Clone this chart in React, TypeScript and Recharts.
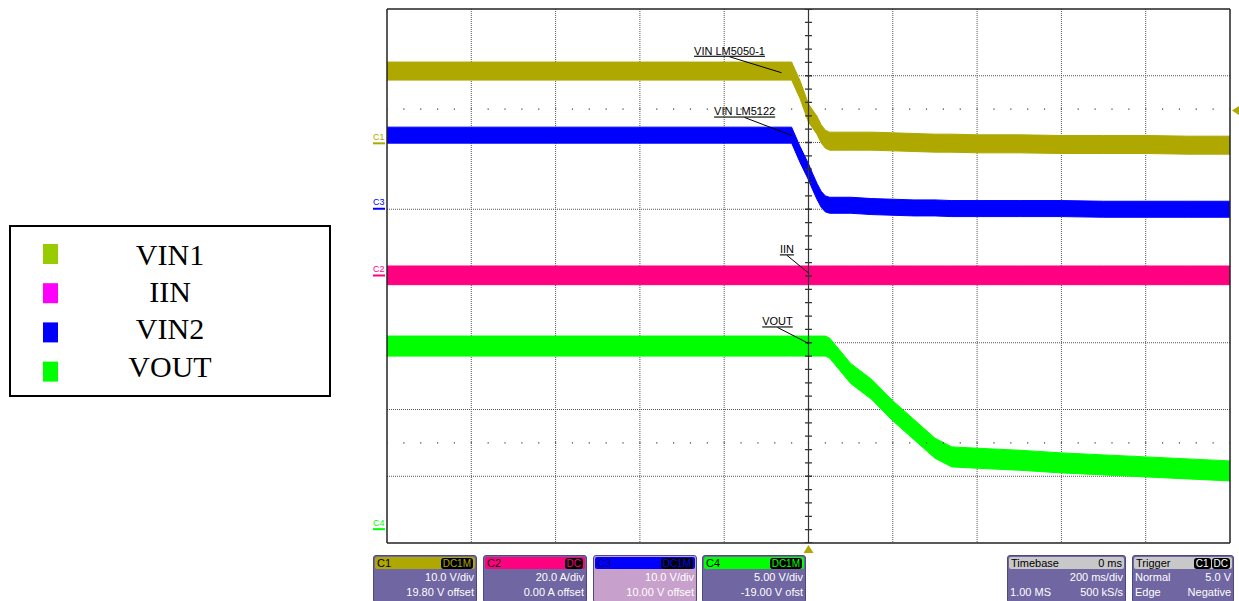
import React from "react";
import {
  ComposedChart,
  Area,
  XAxis,
  YAxis,
  CartesianGrid,
  ReferenceLine,
  ReferenceDot,
  Legend,
} from "recharts";

// time in ms (200 ms/div, trigger at 0)
const time = [-1000, -40, -20, 0, 10, 20, 30, 40, 50, 100, 150, 200, 250, 300, 340, 400, 500, 600, 700, 800, 900, 1000];
// C1, volts
const vin1 = [10.9, 10.9, 8.1, 4.6, 3.7, 2.8, 1.5, 0.7, 0.4, 0.4, 0.4, 0.3, 0.2, 0.1, 0.1, 0.0, 0.0, -0.1, -0.1, -0.1, -0.2, -0.2];
// C2, amps
const iin = [0.2, 0.2, 0.2, 0.2, 0.2, 0.2, 0.2, 0.2, 0.2, 0.2, 0.2, 0.2, 0.2, 0.2, 0.2, 0.2, 0.2, 0.2, 0.2, 0.2, 0.2, 0.2];
// C3, volts
const vin2 = [11.1, 11.1, 8.2, 5.6, 4.1, 2.7, 1.5, 0.8, 0.6, 0.6, 0.4, 0.3, 0.2, 0.2, 0.1, 0.1, 0.1, 0.1, 0.0, 0.0, 0.0, 0.0];
// C4, volts
const vout = [13.75, 13.75, 13.75, 13.75, 13.75, 13.75, 13.75, 13.75, 13.6, 11.7, 10.5, 8.9, 7.5, 6.1, 5.45, 5.35, 5.2, 5.0, 4.85, 4.7, 4.55, 4.4];

// scope channel settings
const channels = ["C1", "C2", "C3", "C4"];
const perDiv = [10, 20, 10, 5];
const offsets = [19.8, 0, 10, -19];
const noisePP = [2.7, 5.6, 2.4, 1.5]; // peak-to-peak trace noise, channel units
const traceColors = ["#aea800", "#ff0080", "#0000ff", "#00ff00"];

const seriesKeys = ["vin1", "iin", "vin2", "vout"];
const seriesValues = [vin1, iin, vin2, vout];

const legendNames = ["VIN1", "IIN", "VIN2", "VOUT"];
const legendColors = ["#99cc00", "#ff00ff", "#0000ff", "#00ff00"];

const gridTimes = [-800, -600, -400, -200, 200, 400, 600, 800];
const gridDivs = [-3, -2, -1, 1, 2, 3];

const notes = [
  { text: "VIN LM5050-1", t: -64, v: 10.65, ch: 0, dx: -52, dy: -16 },
  { text: "VIN LM5122", t: -40, v: 11.05, ch: 2, dx: -47, dy: -18 },
  { text: "IIN", t: 1, v: 0.8, ch: 1, dx: -22, dy: -18 },
  { text: "VOUT", t: 0, v: 13.95, ch: 3, dx: -31, dy: -16 },
];

const band = (v: number, ch: number) => [v - noisePP[ch] / 2, v + noisePP[ch] / 2];

const data = time.map((t, i) => {
  const row: any = { t };
  seriesKeys.forEach((k, s) => {
    row[k] = band(seriesValues[s][i], s);
  });
  return row;
});

const domainOf = (ch: number) => [-offsets[ch] - 4 * perDiv[ch], -offsets[ch] + 4 * perDiv[ch]];

const SANS = "'Liberation Sans', Arial, sans-serif";

function LegendBox() {
  return (
    <svg width={322} height={172}>
      <rect x={1} y={1} width={320} height={170} fill="#fff" stroke="#000" strokeWidth={2} />
      {legendNames.map((n, i) => (
        <g key={n}>
          <rect x={34} y={19 + i * 39.2} width={15} height={20} fill={legendColors[i]} />
          <text
            x={161}
            y={40 + i * 37.2}
            textAnchor="middle"
            fontFamily="'Liberation Serif', 'Times New Roman', serif"
            fontSize={30}
            fill="#000"
          >
            {n}
          </text>
        </g>
      ))}
    </svg>
  );
}

function Panel(props: {
  left: number;
  width: number;
  title: string;
  titleRight?: string;
  headBg: string;
  headColor: string;
  badges?: { text: string; color: string }[];
  rows: [string, string][];
  body?: string;
}) {
  const { left, width, title, titleRight, headBg, headColor, badges, rows, body } = props;
  return (
    <div
      style={{
        position: "absolute",
        left,
        top: 555,
        width,
        height: 48,
        boxSizing: "border-box",
        background: body || "#6f66a2",
        border: "1px solid #4e4880",
        borderRadius: 3,
        fontFamily: SANS,
        fontSize: 11,
        color: "#fff",
        lineHeight: "15px",
      }}
    >
      <div
        style={{
          height: 12,
          margin: 1,
          background: headBg,
          borderRadius: 2,
          display: "flex",
          justifyContent: "space-between",
          alignItems: "center",
          color: headColor,
          padding: "0 2px",
          lineHeight: "12px",
        }}
      >
        <span>{title}</span>
        <span style={{ display: "flex", gap: 1 }}>
          {titleRight && <span>{titleRight}</span>}
          {(badges || []).map((b) => (
            <span
              key={b.text}
              style={{
                background: "#000",
                color: b.color,
                borderRadius: 3,
                padding: "0 2px",
                lineHeight: "11px",
                fontSize: 10,
              }}
            >
              {b.text}
            </span>
          ))}
        </span>
      </div>
      {rows.map((r, i) => (
        <div
          key={i}
          style={{ display: "flex", justifyContent: "space-between", padding: "0 2px", height: 15 }}
        >
          <span>{r[0]}</span>
          <span>{r[1]}</span>
        </div>
      ))}
    </div>
  );
}

export default function App() {
  return (
    <div
      style={{
        position: "absolute",
        left: 0,
        top: 0,
        width: 1239,
        height: 601,
        background: "#fff",
        overflow: "hidden",
      }}
    >
      <ComposedChart width={1239} height={601} data={data} margin={{ top: 9, right: 9, bottom: 58, left: 387 }}>
        <XAxis dataKey="t" type="number" domain={[-1000, 1000]} hide allowDataOverflow />
        <YAxis yAxisId="grid" type="number" domain={[-4, 4]} hide allowDataOverflow />
        {channels.map((c, i) => (
          <YAxis key={c} yAxisId={c} type="number" domain={domainOf(i)} hide allowDataOverflow />
        ))}
        <CartesianGrid
          yAxisId="grid"
          verticalValues={gridTimes}
          horizontalValues={gridDivs}
          stroke="#555"
          strokeDasharray="1 1"
        />
        <ReferenceLine yAxisId="grid" y={2.5} stroke="#444" strokeWidth={1.2} strokeDasharray="1.2 15.66" strokeDashoffset={0.6} />
        <ReferenceLine yAxisId="grid" y={-2.5} stroke="#444" strokeWidth={1.2} strokeDasharray="1.2 15.66" strokeDashoffset={0.6} />

        {seriesKeys.map((k, i) => (
          <Area
            key={k}
            yAxisId={channels[i]}
            dataKey={k}
            type="linear"
            stroke={traceColors[i]}
            strokeWidth={1}
            fill={traceColors[i]}
            fillOpacity={1}
            dot={false}
            activeDot={false}
            isAnimationActive={false}
          />
        ))}

        {/* centre axis with minor ticks */}
        <ReferenceLine yAxisId="grid" x={0} stroke="#333" strokeWidth={1.2} />
        <ReferenceLine yAxisId="grid" x={0} stroke="#333" strokeWidth={7} strokeDasharray="1.3 12.05" strokeDashoffset={0.65} />

        {/* frame */}
        <ReferenceLine yAxisId="grid" x={-1000} stroke="#222" strokeWidth={1.5} />
        <ReferenceLine yAxisId="grid" x={1000} stroke="#222" strokeWidth={1.5} />
        <ReferenceLine yAxisId="grid" y={4} stroke="#222" strokeWidth={1.5} />
        <ReferenceLine yAxisId="grid" y={-4} stroke="#222" strokeWidth={1.5} />

        {/* channel zero markers */}
        {channels.map((c, i) => (
          <ReferenceDot
            key={"m" + c}
            yAxisId={c}
            x={-1000}
            y={0}
            r={1}
            shape={(p: any) => (
              <g>
                <text x={p.cx - 14} y={p.cy - 4} fontSize={9} fontFamily={SANS} fill={traceColors[i]}>
                  {c}
                </text>
                <rect x={p.cx - 14} y={p.cy - 1.5} width={12} height={2} fill={traceColors[i]} />
              </g>
            )}
          />
        ))}

        {/* trigger level and trigger time markers */}
        <ReferenceDot
          yAxisId="C1"
          x={1000}
          y={5}
          r={1}
          shape={(p: any) => (
            <path d={`M${p.cx + 2},${p.cy} L${p.cx + 9},${p.cy - 4.5} L${p.cx + 9},${p.cy + 4.5} Z`} fill={traceColors[0]} />
          )}
        />
        <ReferenceDot
          yAxisId="grid"
          x={0}
          y={-4}
          r={1}
          shape={(p: any) => (
            <path d={`M${p.cx},${p.cy + 2} L${p.cx + 5},${p.cy + 10} L${p.cx - 5},${p.cy + 10} Z`} fill={traceColors[0]} />
          )}
        />

        {/* annotations */}
        {notes.map((n) => (
          <ReferenceDot
            key={n.text}
            yAxisId={channels[n.ch]}
            x={n.t}
            y={n.v}
            r={1}
            shape={(p: any) => (
              <g>
                <line x1={p.cx + n.dx} y1={p.cy + n.dy} x2={p.cx} y2={p.cy} stroke="#000" strokeWidth={1} />
                <text
                  x={p.cx + n.dx}
                  y={p.cy + n.dy - 2}
                  textAnchor="middle"
                  fontSize={11}
                  fontFamily={SANS}
                  fill="#000"
                  textDecoration="underline"
                >
                  {n.text}
                </text>
              </g>
            )}
          />
        ))}

        <Legend
          layout="vertical"
          align="center"
          verticalAlign="middle"
          wrapperStyle={{ left: 9, top: 225, width: 322, height: 172 }}
          content={() => <LegendBox />}
        />
      </ComposedChart>

      <Panel left={373} width={104} title="C1" headBg="#aea800" headColor="#000"
        badges={[{ text: "DC1M", color: "#aea800" }]}
        rows={[["", "10.0 V/div"], ["", "19.80 V offset"]]} />
      <Panel left={483} width={104} title="C2" headBg="#ff0080" headColor="#000"
        badges={[{ text: "DC", color: "#ff0080" }]}
        rows={[["", "20.0 A/div"], ["", "0.00 A offset"]]} />
      <Panel left={593} width={104} title="C3" headBg="#0000ff" headColor="#000060" body="#c8a0cc"
        badges={[{ text: "DC1M", color: "#0000ff" }]}
        rows={[["", "10.0 V/div"], ["", "10.00 V offset"]]} />
      <Panel left={702} width={104} title="C4" headBg="#00ff00" headColor="#000"
        badges={[{ text: "DC1M", color: "#00ff00" }]}
        rows={[["", "5.00 V/div"], ["", "-19.00 V ofst"]]} />
      <Panel left={1007} width={119} title="Timebase" titleRight="0 ms" headBg="#c8c8c8" headColor="#000"
        rows={[["", "200 ms/div"], ["1.00 MS", "500 kS/s"]]} />
      <Panel left={1132} width={102} title="Trigger" headBg="#c8c8c8" headColor="#000"
        badges={[{ text: "C1", color: "#fff" }, { text: "DC", color: "#fff" }]}
        rows={[["Normal", "5.0 V"], ["Edge", "Negative"]]} />
    </div>
  );
}
